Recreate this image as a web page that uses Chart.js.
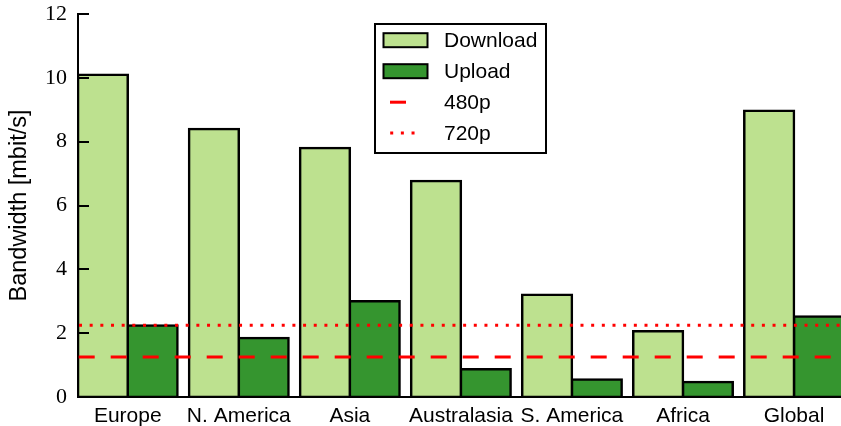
<!DOCTYPE html>
<html><head><meta charset="utf-8">
<script src="https://cdn.jsdelivr.net/npm/chart.js@4"></script>
<style>html,body{margin:0;padding:0;background:#fff;overflow:hidden}canvas{display:block}</style>
</head><body>
<canvas id="c" width="841" height="426"></canvas>
<script>
const categories = ['Europe', 'N. America', 'Asia', 'Australasia', 'S. America', 'Africa', 'Global'];
const seriesNames = ['Download', 'Upload'];
const download = [10.1, 8.4, 7.8, 6.77, 3.2, 2.06, 8.97];
const upload = [2.24, 1.85, 3.0, 0.87, 0.55, 0.47, 2.52];
const thresholdNames = ['480p', '720p'];
const thresholdValues = [1.25, 2.25];
const yTicks = [0, 2, 4, 6, 8, 10, 12];
const yTitle = 'Bandwidth [mbit/s]';

const X_MIN = -0.448, X_MAX = 6.423;
const LIGHT = '#bde18f', DARK = '#35952f', RED = '#ff0000';

const toPts = arr => arr.map((v, i) => ({x: i, y: v}));
const lineSpan = v => [{x: X_MIN, y: v}, {x: X_MAX, y: v}];

const barCommon = {
  type: 'bar', order: 2, borderColor: '#000', borderWidth: 2.5, inflateAmount: 1.25,
  borderSkipped: false, categoryPercentage: 0.896, barPercentage: 1.0
};

const datasets = [
  Object.assign({label: seriesNames[0], data: toPts(download), backgroundColor: LIGHT}, barCommon),
  Object.assign({label: seriesNames[1], data: toPts(upload), backgroundColor: DARK}, barCommon),
  {type: 'line', order: 1, label: thresholdNames[0], data: lineSpan(thresholdValues[0]), borderColor: RED,
   borderWidth: 3, borderDash: [16, 16], borderDashOffset: -0.7, pointRadius: 0, fill: false, clip: 0, borderCapStyle: 'butt'},
  {type: 'line', order: 1, label: thresholdNames[1], data: lineSpan(thresholdValues[1]), borderColor: RED,
   borderWidth: 3, borderDash: [3, 7.67], borderDashOffset: -1, pointRadius: 0, fill: false, clip: 0, borderCapStyle: 'butt'}
];

const innerTicks = {
  id: 'innerTicks',
  afterDatasetsDraw(chart) {
    const ctx = chart.ctx, y = chart.scales.y, left = chart.chartArea.left;
    ctx.save();
    ctx.strokeStyle = '#000'; ctx.lineWidth = 2;
    yTicks.forEach(v => {
      const py = Math.round(y.getPixelForValue(v));
      ctx.beginPath(); ctx.moveTo(left, py); ctx.lineTo(left + 11, py); ctx.stroke();
    });
    ctx.restore();
  }
};

const legendBox = {
  id: 'legendBox',
  afterDraw(chart) {
    const ctx = chart.ctx, ds = chart.data.datasets;
    const bx = 375, by = 24, bw = 171, bh = 129;
    ctx.save();
    ctx.fillStyle = '#fff'; ctx.fillRect(bx, by, bw, bh);
    ctx.lineWidth = 2; ctx.strokeStyle = '#000'; ctx.strokeRect(bx, by, bw, bh);
    const rowY = [40.2, 71.2, 102.2, 133];
    ds.forEach((d, i) => {
      const cy = rowY[i];
      if (d.type === 'bar') {
        ctx.fillStyle = '#000'; ctx.fillRect(382.5, cy - 8, 46, 16);
        ctx.fillStyle = d.backgroundColor; ctx.fillRect(384.5, cy - 6, 42, 12);
      } else {
        ctx.strokeStyle = d.borderColor; ctx.lineWidth = d.borderWidth;
        ctx.setLineDash(d.borderDash);
        ctx.lineDashOffset = 0;
        ctx.beginPath();
        if (i === 2) { ctx.moveTo(390, cy); ctx.lineTo(406.5, cy); }
        else { ctx.moveTo(390.2, cy); ctx.lineTo(416, cy); }
        ctx.stroke();
        ctx.setLineDash([]);
      }
      ctx.fillStyle = '#000';
      ctx.font = '21px "Liberation Sans"';
      ctx.textBaseline = 'middle'; ctx.textAlign = 'left';
      ctx.fillText(d.label, 444, cy + 1);
    });
    ctx.restore();
  }
};

new Chart(document.getElementById('c'), {
  type: 'bar',
  data: {datasets},
  options: {
    responsive: false, animation: false, devicePixelRatio: 1,
    layout: {padding: {top: 14, right: 0, bottom: 0, left: 0}},
    plugins: {legend: {display: false}, tooltip: {enabled: false}},
    scales: {
      x: {
        type: 'linear', min: X_MIN, max: X_MAX, bounds: 'data', offset: false,
        afterBuildTicks: s => { s.ticks = categories.map((_, i) => ({value: i})); },
        afterDataLimits: s => { s.min = X_MIN; s.max = X_MAX; },
        grid: {display: false, drawTicks: false, offset: false},
        border: {display: true, color: '#000', width: 2},
        ticks: {autoSkip: false, maxRotation: 0, padding: 7, color: '#000', includeBounds: false,
          font: {family: 'Liberation Sans', size: 21}, callback: v => categories[v] ?? ''},
        afterFit: s => { s.height = 29; s.paddingLeft = 0; s.paddingRight = 0; }
      },
      y: {
        min: 0, max: 12,
        afterBuildTicks: s => { s.ticks = yTicks.map(v => ({value: v})); },
        grid: {display: false, drawTicks: false},
        border: {display: true, color: '#000', width: 2},
        ticks: {padding: 11, color: '#000', font: {family: 'Liberation Serif', size: 22}},
        title: {display: true, text: yTitle, color: '#000',
          font: {family: 'Liberation Sans', size: 23.5}, padding: {top: 5, bottom: 0}},
        afterFit: s => { s.width = 78; s.paddingTop = 0; s.paddingBottom = 0; }
      }
    }
  },
  plugins: [innerTicks, legendBox]
});
</script>
</body></html>
